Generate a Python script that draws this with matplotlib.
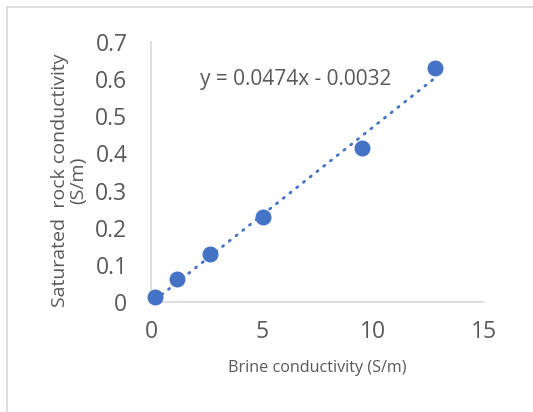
import matplotlib.pyplot as plt
import numpy as np

# brine vs saturated rock conductivity (S/m)
brine = [0.18, 1.19, 2.64, 5.06, 9.49, 12.79]
rock = [0.014, 0.061, 0.128, 0.230, 0.415, 0.629]
slope, intercept = 0.0474, -0.0032

blue = "#4472C4"
grey = "#595959"

plt.rcParams['font.family'] = ['Open Sans', 'DejaVu Sans']

fig = plt.figure(figsize=(5.33, 4.12), dpi=100)
# chart border (partly off the image, like the screenshot)
fig.add_artist(plt.Line2D([7 / 533, 1.01], [1 - 7 / 412, 1 - 7 / 412], color="#D9D9D9", lw=1.2))
fig.add_artist(plt.Line2D([7 / 533, 7 / 533], [-0.01, 1 - 7 / 412], color="#D9D9D9", lw=1.2))

ax = fig.add_axes([151 / 533, 110 / 412, 333 / 533, 260 / 412])

xs = np.array([min(brine), max(brine)])
ax.plot(xs, slope * xs + intercept, color=blue, lw=2.0, ls=(0, (0.5, 2.6)),
        dash_capstyle="round", zorder=2)
ax.plot(brine, rock, "o", color=blue, ms=10.5, zorder=3, clip_on=False)

ax.set_xlim(0, 15)
ax.set_ylim(0, 0.7)
ax.set_xticks([0, 5, 10, 15])
ax.set_yticks(np.arange(0, 0.71, 0.1))
ax.set_yticklabels(["0", "0.1", "0.2", "0.3", "0.4", "0.5", "0.6", "0.7"])
ax.tick_params(length=0, labelsize=16.5, colors=grey)
ax.tick_params(axis="y", pad=17)
ax.tick_params(axis="x", pad=13)
for s in ["top", "right"]:
    ax.spines[s].set_visible(False)
for s in ["left", "bottom"]:
    ax.spines[s].set_color("#D9D9D9")
    ax.spines[s].set_linewidth(1.2)

ax.text(6.5, 0.60, "y = 0.0474x - 0.0032", fontsize=15, color=grey, ha="center", va="center")

fig.text(317 / 533, 1 - 368 / 412, "Brine conductivity (S/m)", fontsize=11.6, color=grey,
         ha="center", va="center")
fig.text(69 / 533, 1 - 180 / 412, "Saturated  rock conductivity\n(S/m)", fontsize=14, color=grey,
         ha="center", va="center", rotation=90, linespacing=1.0)

fig.savefig("out.png", dpi=100)
